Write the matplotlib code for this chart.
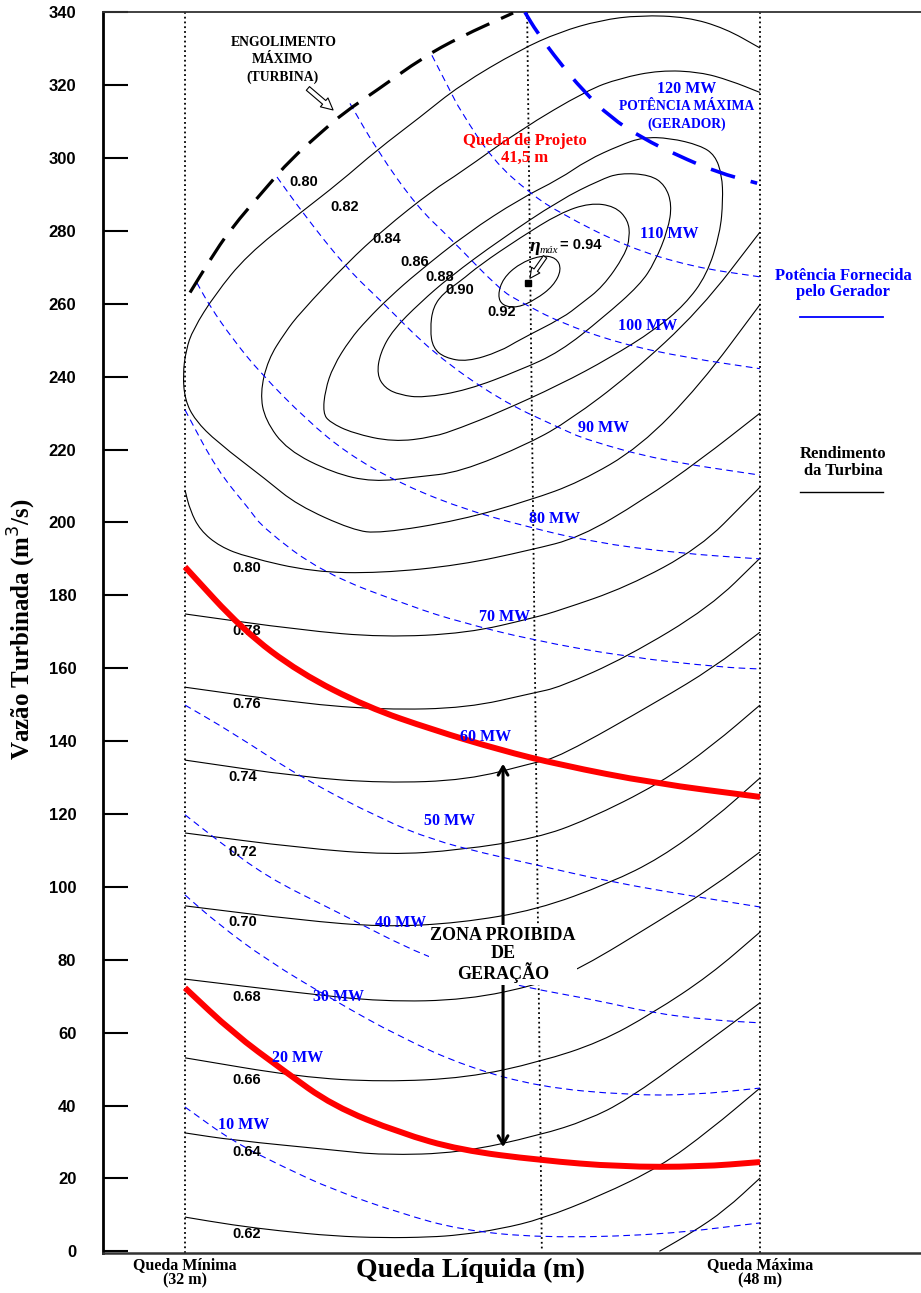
import matplotlib.pyplot as plt
from matplotlib.path import Path
from matplotlib.patches import PathPatch

SERIF = ['Liberation Serif', 'DejaVu Serif']
SANS = ['Liberation Sans', 'DejaVu Sans']
BLUE = '#0000ff'
RED = '#ff0000'

QUEDA_MIN = 32
QUEDA_MAX = 48
# design head line leans slightly in the original drawing
projeto_h = [41.52, 41.93]
projeto_q = [340, 0]

# ---------------- turbine efficiency curves (queda m, vazao m3/s) ----------------
r60_h = [45.2, 46.13, 47.03, 48.0]
r60_q = [0.0, 5.3, 11.3, 20.1]
r62_h = [32, 33.34, 34.64, 36.12, 37.51, 38.82, 39.65, 40.76, 41.93, 43.55, 45.22, 46.61, 48]
r62_q = [9.4, 7.2, 5.6, 4.2, 3.7, 3.9, 4.5, 6.1, 8.9, 15.2, 23.2, 33.3, 44.8]
r64_h = [32, 33.34, 36.12, 37.51, 39.65, 41.88, 43.19, 44.3, 46.13, 48]
r64_q = [32.5, 30.5, 27.8, 26.4, 27.0, 31.9, 36.0, 41.5, 54.5, 68.2]
r66_h = [32, 35.2, 37.51, 39.85, 41.88, 43.55, 45.02, 46.61, 48]
r66_q = [53.1, 47.8, 46.5, 47.6, 52.0, 57.4, 65.4, 75.8, 87.6]
r68_h = [32, 35.2, 37.51, 39.85, 41.88, 42.99, 45.22, 46.69, 48]
r68_q = [74.7, 70.9, 68.5, 69.0, 73.3, 77.5, 90.9, 100.0, 109.6]
r70_h = [32, 35.2, 37.51, 39.65, 41.79, 43.83, 45.22, 46.69, 48]
r70_q = [94.8, 90.9, 89.0, 90.1, 93.7, 101.1, 107.9, 118.4, 129.9]
r72_h = [32, 35.2, 37.7, 39.65, 41.79, 43.19, 45.22, 46.69, 48]
r72_q = [114.8, 110.7, 108.8, 110.1, 113.4, 118.4, 128.4, 138.9, 149.9]
r74_h = [32, 35.2, 37.51, 39.85, 41.69, 42.43, 45.22, 46.69, 48]
r74_q = [134.8, 130.2, 128.5, 129.3, 134.0, 135.7, 151.3, 160.1, 169.9]
r76_h = [32, 35.2, 37.51, 39.85, 41.69, 42.43, 44.3, 46.61, 48]
r76_q = [154.8, 150.4, 148.6, 149.1, 153.2, 154.8, 163.1, 176.8, 190.2]
r78_h = [32, 35.2, 37.51, 39.85, 41.69, 42.43, 44.3, 46.33, 47.64, 48]
r78_q = [174.9, 170.5, 168.5, 169.6, 173.8, 175.9, 182.3, 193.1, 206.1, 209.7]
r80_h = [32, 32.14, 32.42, 32.97, 33.73, 35.56, 37.43, 39.65, 41.6, 42.99, 44.74, 46.33, 48]
r80_q = [208.9, 203.4, 197.9, 193.4, 190.5, 186.4, 186.1, 188.3, 192.4, 195.9, 206.1, 217.1, 230.0]
r82_h = [48.0, 47.03, 45.97, 44.66, 43.55, 42.43, 41.32, 39.65, 38.54, 37.34, 36.31, 35.2,
         33.73, 32.83, 32.22, 32.03, 31.94, 32.0, 32.28, 32.89, 34.28, 35.12, 36.67, 37.43,
         39.65, 41.6, 42.99, 44.66, 46.33, 48.0]
r82_q = [330.2, 335.6, 338.7, 339.2, 337.8, 334.6, 329.7, 320.0, 311.2, 302.2, 293.4, 284.9,
         273.4, 262.5, 252.9, 247.4, 240.6, 233.6, 228.1, 222.1, 211.6, 204.8, 197.9, 197.0,
         200.6, 206.1, 211.1, 220.7, 237.7, 259.8]
r84_h = [48.0, 47.16, 46.33, 45.22, 44.1, 43.19, 41.32, 39.65, 38.9, 37.51, 36.51, 35.2, 34.78,
         34.31, 34.09, 34.23, 34.84, 36.12, 37.23, 38.46, 39.65, 41.6, 42.71, 44.38, 46.33, 48.0]
r84_q = [318.0, 321.3, 323.6, 324.1, 321.9, 318.6, 307.7, 295.9, 291.2, 280.3, 271.2, 257.5, 252.1,
         244.7, 235.5, 228.1, 219.9, 213.6, 211.1, 212.5, 213.8, 221.8, 228.1, 240.5, 258.3, 279.7]
r86_h = [35.84, 35.9, 36.12, 36.59, 37.06, 37.7, 38.46, 39.85, 41.32, 42.43, 43.19, 44.1, 44.74,
         45.49, 46.33, 46.75, 46.94, 46.97, 46.89, 46.52, 45.91, 45.08, 43.83, 42.43, 40.76,
         39.65, 38.9, 37.79, 36.67, 36.03]
r86_q = [230.0, 236.3, 242.8, 250.2, 255.6, 261.9, 268.5, 279.4, 288.8, 294.3, 299.4, 303.5, 305.7,
         305.5, 303.5, 300.8, 295.3, 288.5, 279.4, 267.9, 259.8, 252.9, 245.2, 237.8, 230.3,
         225.9, 223.4, 222.1, 224.5, 227.5]
r88_h = [37.34, 37.43, 37.79, 38.54, 39.37, 40.76, 42.43, 43.55, 44.1, 44.94, 45.36, 45.55,
         45.44, 45.08, 44.66, 43.63, 42.43, 41.32, 39.85, 38.62, 37.98, 37.56]
r88_q = [240.6, 246.5, 252.9, 260.3, 267.4, 277.5, 288.5, 294.0, 295.9, 295.4, 292.6, 287.2,
         280.3, 271.5, 265.2, 256.2, 246.8, 241.8, 236.3, 234.2, 235.0, 236.9]
r90_h = [38.82, 38.9, 39.23, 39.65, 40.21, 41.32, 42.43, 43.27, 43.96, 44.33, 44.38, 44.24,
         43.63, 42.99, 42.52, 41.32, 40.76, 39.85, 39.23, 38.9]
r90_q = [252.9, 259.2, 263.3, 266.1, 270.7, 278.1, 284.9, 287.7, 286.8, 283.0, 278.3, 273.4,
         264.7, 259.8, 256.2, 250.2, 246.9, 244.1, 245.2, 247.9]
r92_h = [40.7, 40.85, 41.3, 41.9, 42.33, 42.48, 42.25, 41.76, 41.25, 40.83]
r92_q = [262.3, 267.0, 271.0, 273.3, 272.7, 269.4, 264.9, 261.2, 258.9, 259.5]

eta_max_h = 41.54
eta_max_q = 265.8

rend_labels = ['0.80', '0.82', '0.84', '0.86', '0.88', '0.90', '0.92',
               '0.80', '0.78', '0.76', '0.74', '0.72', '0.70', '0.68', '0.66', '0.64', '0.62']
rend_label_h = [35.31, 36.45, 37.62, 38.40, 39.10, 39.65, 40.82,
                33.73, 33.73, 33.73, 33.61, 33.61, 33.61, 33.73, 33.73, 33.73, 33.73]
rend_label_q = [293.3, 286.5, 277.7, 271.4, 267.4, 263.9, 257.7,
                187.5, 170.2, 150.1, 130.2, 109.6, 90.5, 69.8, 47.0, 27.3, 4.7]

# ---------------- generator power curves ----------------
p10_h = [32, 33.34, 34.73, 36.12, 37.98, 39.65, 41.93, 45.22, 48]
p10_q = [39.6, 30.1, 23.2, 16.9, 10.5, 5.9, 3.7, 4.5, 7.8]
p20_h = [32, 33.34, 34.73, 36.12, 37.98, 39.65, 41.88, 44.1, 46.33, 48]
p20_q = [72.3, 59.9, 49.7, 39.9, 32.5, 27.8, 25.0, 23.2, 23.2, 24.5]
p30_h = [32, 32.89, 34.28, 36.12, 37.98, 39.85, 41.88, 44.3, 46.13, 48]
p30_q = [97.8, 90.1, 79.9, 69.0, 58.8, 50.6, 45.1, 42.9, 42.9, 44.8]
p40_h = [32, 32.89, 34.28, 36.12, 38.73, 40.96, 41.88, 43.55, 45.02, 46.61, 48]
p40_q = [119.8, 112.9, 102.7, 93.7, 80.5, 73.7, 71.7, 68.7, 65.4, 63.5, 62.7]
p50_h = [32, 33.34, 35.2, 37.51, 38.9, 40.29, 41.79, 43.83, 46.41, 48]
p50_q = [149.9, 142.2, 130.2, 118.4, 112.9, 109.3, 106.0, 101.4, 97.0, 94.5]
p60_h = [32, 33.61, 35.2, 37.06, 38.9, 40.76, 42.43, 45.02, 48]
p60_q = [187.8, 170.5, 158.7, 149.4, 143.1, 137.6, 133.5, 128.5, 124.7]
p70_h = [32, 32.89, 33.81, 34.17, 35.84, 38.34, 39.65, 41.68, 44.3, 46.89, 48]
p70_q = [230.9, 214.4, 203.4, 198.5, 186.1, 176.8, 172.7, 167.7, 163.1, 160.3, 159.8]
p80_h = [32.33, 32.70, 33.34, 34.09, 35.39, 36.51, 37.90, 39.65, 41.52, 43.35, 45.69, 48.0]
p80_q = [265.8, 259.2, 250.2, 241.1, 228.1, 219.0, 211.1, 204.0, 198.8, 194.6, 191.6, 190.0]
p90_h = [34.56, 35.28, 36.51, 37.51, 38.9, 40.76, 42.43, 43.19, 45.22, 48]
p90_q = [294.8, 284.9, 269.6, 260.3, 246.5, 233.6, 225.9, 222.6, 217.1, 213.0]
p100_h = [36.59, 37.34, 38.46, 39.37, 40.76, 41.32, 42.43, 44.1, 45.97, 48]
p100_q = [315.0, 302.2, 286.6, 278.1, 263.9, 260.6, 254.9, 249.1, 245.2, 242.2]
p110_h = [38.87, 39.37, 39.65, 40.57, 41.6, 42.43, 44.3, 46.13, 48]
p110_q = [328.2, 318.6, 313.2, 299.4, 290.3, 284.9, 275.6, 270.1, 267.4]
p120_h = [41.46, 41.79, 42.43, 43.07, 43.83, 44.74, 45.69, 46.8, 47.92]
p120_q = [340, 334.6, 326.1, 318.6, 311.2, 305.4, 300.8, 296.1, 293.1]

# maximum turbine flow
engol_h = [32.14, 32.70, 33.25, 34.28, 34.92, 35.76, 36.40, 37.34, 38.62, 39.65, 41.13]
engol_q = [263.1, 272.1, 280.3, 292.1, 299.4, 306.8, 312.3, 318.6, 327.6, 333.2, 339.8]

mw_labels = ['10 MW', '20 MW', '30 MW', '40 MW', '50 MW', '60 MW', '70 MW',
             '80 MW', '90 MW', '100 MW', '110 MW']
mw_label_h = [33.64, 35.14, 36.28, 38.01, 39.35, 40.35, 40.9, 42.27, 43.66, 44.88, 45.47]
mw_label_q = [34.6, 53.1, 69.8, 90.1, 118.1, 141.2, 174.0, 200.9, 225.9, 253.9, 279.2]

zona_h = 40.85
zona_q_baixo = 28.6
zona_q_cima = 133.8


def curva(ax, h, q, fechada=False, **kw):
    # smooth path through the read points (quadratic pieces between midpoints)
    pts = list(zip(h, q))
    n = len(pts)
    mid = lambda a, b: ((a[0] + b[0]) / 2, (a[1] + b[1]) / 2)
    if fechada:
        verts = [mid(pts[-1], pts[0])]
        codes = [Path.MOVETO]
        for i in range(n):
            verts += [pts[i], mid(pts[i], pts[(i + 1) % n])]
            codes += [Path.CURVE3, Path.CURVE3]
    else:
        verts = [pts[0]]
        codes = [Path.MOVETO]
        if n > 2:
            verts.append(mid(pts[0], pts[1]))
            codes.append(Path.LINETO)
            for i in range(1, n - 1):
                verts += [pts[i], mid(pts[i], pts[i + 1])]
                codes += [Path.CURVE3, Path.CURVE3]
        verts.append(pts[-1])
        codes.append(Path.LINETO)
    ax.add_patch(PathPatch(Path(verts, codes), fill=False, **kw))


fig = plt.figure(figsize=(9.21, 12.93), dpi=100)
ax = fig.add_axes([0.1115, 0.0312, 0.8885, 0.9593])
ax.set_xlim(29.71, 52.48)
ax.set_ylim(-0.36, 340)

# reference verticals
ax.axvline(QUEDA_MIN, color='black', lw=1.3, ls=':', zorder=2)
ax.axvline(QUEDA_MAX, color='black', lw=1.3, ls=':', zorder=2)
ax.plot(projeto_h, projeto_q, color='black', lw=1.3, ls=':', zorder=2)

# efficiency curves
abertas = [(r60_h, r60_q), (r62_h, r62_q), (r64_h, r64_q), (r66_h, r66_q), (r68_h, r68_q),
           (r70_h, r70_q), (r72_h, r72_q), (r74_h, r74_q), (r76_h, r76_q), (r78_h, r78_q),
           (r80_h, r80_q), (r82_h, r82_q), (r84_h, r84_q)]
for h, q in abertas:
    curva(ax, h, q, ec='black', lw=0.8, zorder=2)
for h, q in [(r86_h, r86_q), (r88_h, r88_q), (r90_h, r90_q), (r92_h, r92_q)]:
    curva(ax, h, q, fechada=True, ec='black', lw=0.8, zorder=2)

# power curves
for h, q in [(p10_h, p10_q), (p30_h, p30_q), (p40_h, p40_q), (p50_h, p50_q), (p70_h, p70_q),
             (p80_h, p80_q), (p90_h, p90_q), (p100_h, p100_q), (p110_h, p110_q)]:
    curva(ax, h, q, ec=BLUE, lw=0.8, ls=(0, (6, 4)), zorder=2)
curva(ax, p120_h, p120_q, ec=BLUE, lw=2.6, ls=(0, (7, 4.5)), zorder=3)
curva(ax, engol_h, engol_q, ec='black', lw=2.3, ls=(0, (8, 4)), zorder=3)

for t, h, q in zip(rend_labels, rend_label_h, rend_label_q):
    ax.text(h, q, t, fontsize=10.5, fontweight='bold', family=SANS,
            ha='center', va='center', zorder=3)

# forbidden zone limits (20 and 60 MW)
curva(ax, p20_h, p20_q, ec=RED, lw=4.3, zorder=4, capstyle='butt')
curva(ax, p60_h, p60_q, ec=RED, lw=4.3, zorder=4, capstyle='butt')

for t, h, q in zip(mw_labels, mw_label_h, mw_label_q):
    ax.text(h, q, t, fontsize=11.5, fontweight='bold', family=SERIF, color=BLUE,
            ha='center', va='center', zorder=5)

ax.plot(eta_max_h, eta_max_q, 's', color='black', ms=4, zorder=5)

ax.annotate('', xy=(zona_h, zona_q_baixo), xytext=(zona_h, zona_q_cima),
            arrowprops=dict(arrowstyle='<->,head_length=0.6,head_width=0.35',
                            lw=2.2, color='black', shrinkA=0, shrinkB=0), zorder=3)
ax.text(zona_h, 81.3, 'ZONA PROIBIDA\nDE\nGERAÇÃO', fontsize=13, family=SERIF,
        fontweight='bold', ha='center', va='center', linespacing=1.05, zorder=6,
        bbox=dict(facecolor='white', edgecolor='none', pad=1))

# maximum flow note
ax.text(34.75, 331.7, 'ENGOLIMENTO', fontsize=9.8, family=SERIF, fontweight='bold',
        ha='center', va='center', zorder=5)
ax.text(34.70, 327.1, 'MÁXIMO', fontsize=9.8, family=SERIF, fontweight='bold',
        ha='center', va='center', zorder=5)
ax.text(34.70, 322.2, '(TURBINA)', fontsize=9.8, family=SERIF, fontweight='bold',
        ha='center', va='center', zorder=5)
ax.annotate('', xy=(36.12, 313.2), xytext=(35.42, 319.1),
            arrowprops=dict(arrowstyle='simple,head_length=0.6,head_width=0.6,tail_width=0.25',
                            fc='white', ec='black', lw=0.8, shrinkA=0, shrinkB=0,
                            mutation_scale=14), zorder=5)

# generator limit note
ax.text(45.97, 318.9, '120 MW', fontsize=11.5, family=SERIF, fontweight='bold',
        color=BLUE, ha='center', va='center', zorder=5)
ax.text(45.97, 314.2, 'POTÊNCIA MÁXIMA', fontsize=9.8, family=SERIF, fontweight='bold',
        color=BLUE, ha='center', va='center', zorder=5)
ax.text(45.97, 309.3, '(GERADOR)', fontsize=9.8, family=SERIF, fontweight='bold',
        color=BLUE, ha='center', va='center', zorder=5)

ax.text(41.46, 302.4, 'Queda de Projeto\n41,5 m', fontsize=12, family=SERIF,
        fontweight='bold', color=RED, ha='center', va='center', linespacing=1.1, zorder=5)

ax.text(41.74, 275.8, 'η', fontsize=14, family=SERIF, style='italic', fontweight='bold',
        ha='center', va='center', zorder=5)
ax.text(42.13, 274.6, 'máx', fontsize=8, family=SERIF, style='italic',
        ha='center', va='center', zorder=5)
ax.text(43.0, 276.1, '= 0.94', fontsize=10.5, fontweight='bold', family=SANS,
        ha='center', va='center', zorder=5)
ax.annotate('', xy=(41.6, 267.0), xytext=(42.02, 272.9),
            arrowprops=dict(arrowstyle='simple,head_length=0.6,head_width=0.6,tail_width=0.25',
                            fc='white', ec='black', lw=0.8, shrinkA=0, shrinkB=0,
                            mutation_scale=12), zorder=5)

# side legend
ax.text(50.31, 265.4, 'Potência Fornecida\npelo Gerador', fontsize=12, family=SERIF,
        fontweight='bold', color=BLUE, ha='center', va='center', linespacing=1.05)
ax.plot([49.11, 51.42], [256.5, 256.5], color=BLUE, lw=1.3)
ax.text(50.31, 216.5, 'Rendimento\nda Turbina', fontsize=12, family=SERIF,
        fontweight='bold', color='black', ha='center', va='center', linespacing=1.05)
ax.plot([49.11, 51.42], [208.3, 208.3], color='black', lw=1.0)

# axes styling
ax.spines['right'].set_visible(False)
ax.spines['top'].set_linewidth(1.3)
ax.spines['top'].set_color('#333333')
ax.spines['left'].set_linewidth(2.0)
ax.spines['bottom'].set_linewidth(1.8)
ax.spines['bottom'].set_color('#333333')

ax.set_yticks(range(0, 341, 20))
ax.set_yticklabels([str(v) for v in range(0, 341, 20)], fontsize=12,
                   fontweight='bold', family=SANS)
ax.tick_params(axis='y', direction='in', length=18, width=1.5, pad=19)
ax.set_xticks([QUEDA_MIN, QUEDA_MAX])
ax.set_xticklabels(['Queda Mínima\n(32 m)', 'Queda Máxima\n(48 m)'], fontsize=11.5,
                   fontweight='bold', family=SERIF, linespacing=1.0)
ax.tick_params(axis='x', length=0, pad=3)

ax.set_xlabel('Queda Líquida (m)', fontsize=20, fontweight='bold', family=SERIF)
ax.xaxis.set_label_coords(0.45, -0.004)
ax.set_ylabel('Vazão Turbinada (m$^3$/s)', fontsize=18, fontweight='bold', family=SERIF)
ax.yaxis.set_label_coords(-0.079, 0.5025)

fig.savefig('out.png', dpi=100)
